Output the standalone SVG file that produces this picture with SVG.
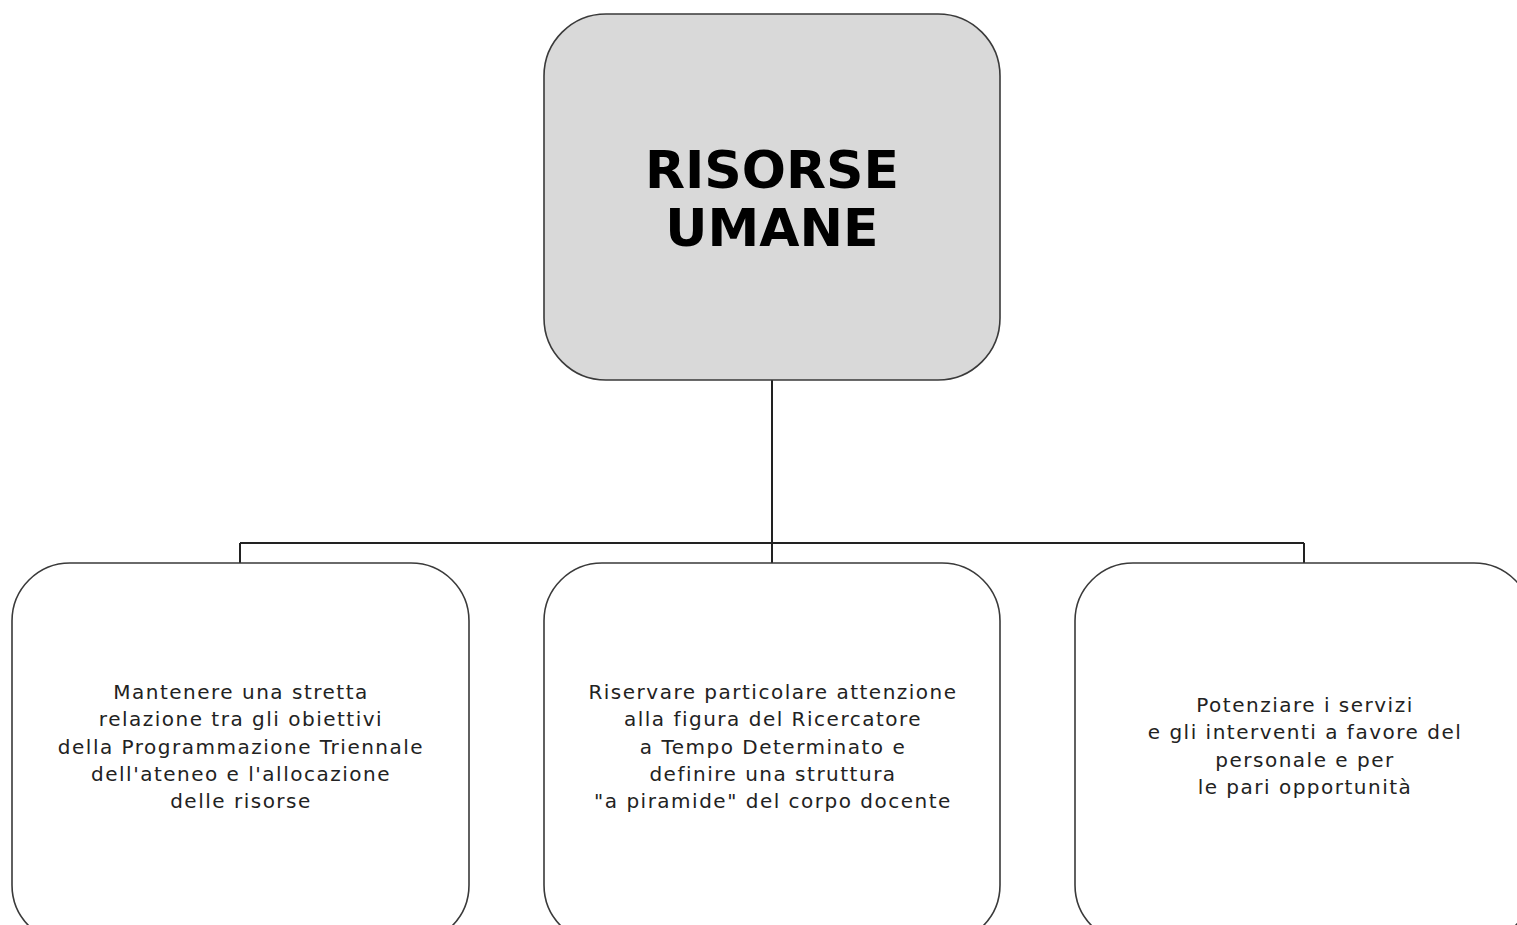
<svg xmlns="http://www.w3.org/2000/svg" width="1517" height="925" viewBox="0 0 1517 925">
<style>
.box{fill:#ffffff;stroke:#3a3a3a;stroke-width:1.6}
.root{fill:#d9d9d9;stroke:#3a3a3a;stroke-width:1.6}
.conn{fill:none;stroke:#222;stroke-width:2}
.t{font-family:"DejaVu Sans",Verdana,sans-serif;font-size:20px;letter-spacing:1.5px;fill:#222;text-anchor:middle}
.title{font-family:"DejaVu Sans","Verdana",sans-serif;font-weight:bold;font-size:52px;fill:#000;text-anchor:middle}
</style>
<rect width="1517" height="925" fill="#ffffff"/>
<g id="connectors">
<path class="conn" d="M772 380 V543 M240 543 H1304 M240 543 V563 M772 543 V563 M1304 543 V563"/>
</g>
<g id="root">
<rect class="root" x="544" y="14" width="456" height="366" rx="62" ry="62"/>
<text class="title" x="772" y="188">RISORSE</text>
<text class="title" x="772" y="246">UMANE</text>
</g>
<g id="node-left">
<rect class="box" x="12" y="563" width="457" height="380" rx="58" ry="58"/>
<text class="t" x="241" y="699">Mantenere una stretta</text>
<text class="t" x="241" y="726">relazione tra gli obiettivi</text>
<text class="t" x="241" y="754">della Programmazione Triennale</text>
<text class="t" x="241" y="781">dell'ateneo e l'allocazione</text>
<text class="t" x="241" y="808">delle risorse</text>
</g>
<g id="node-middle">
<rect class="box" x="544" y="563" width="456" height="380" rx="58" ry="58"/>
<text class="t" x="773" y="699">Riservare particolare attenzione</text>
<text class="t" x="773" y="726">alla figura del Ricercatore</text>
<text class="t" x="773" y="754">a Tempo Determinato e</text>
<text class="t" x="773" y="781">definire una struttura</text>
<text class="t" x="773" y="808">"a piramide" del corpo docente</text>
</g>
<g id="node-right">
<rect class="box" x="1075" y="563" width="457" height="380" rx="58" ry="58"/>
<text class="t" x="1305" y="712">Potenziare i servizi</text>
<text class="t" x="1305" y="739">e gli interventi a favore del</text>
<text class="t" x="1305" y="767">personale e per</text>
<text class="t" x="1305" y="794">le pari opportunità</text>
</g>
</svg>
